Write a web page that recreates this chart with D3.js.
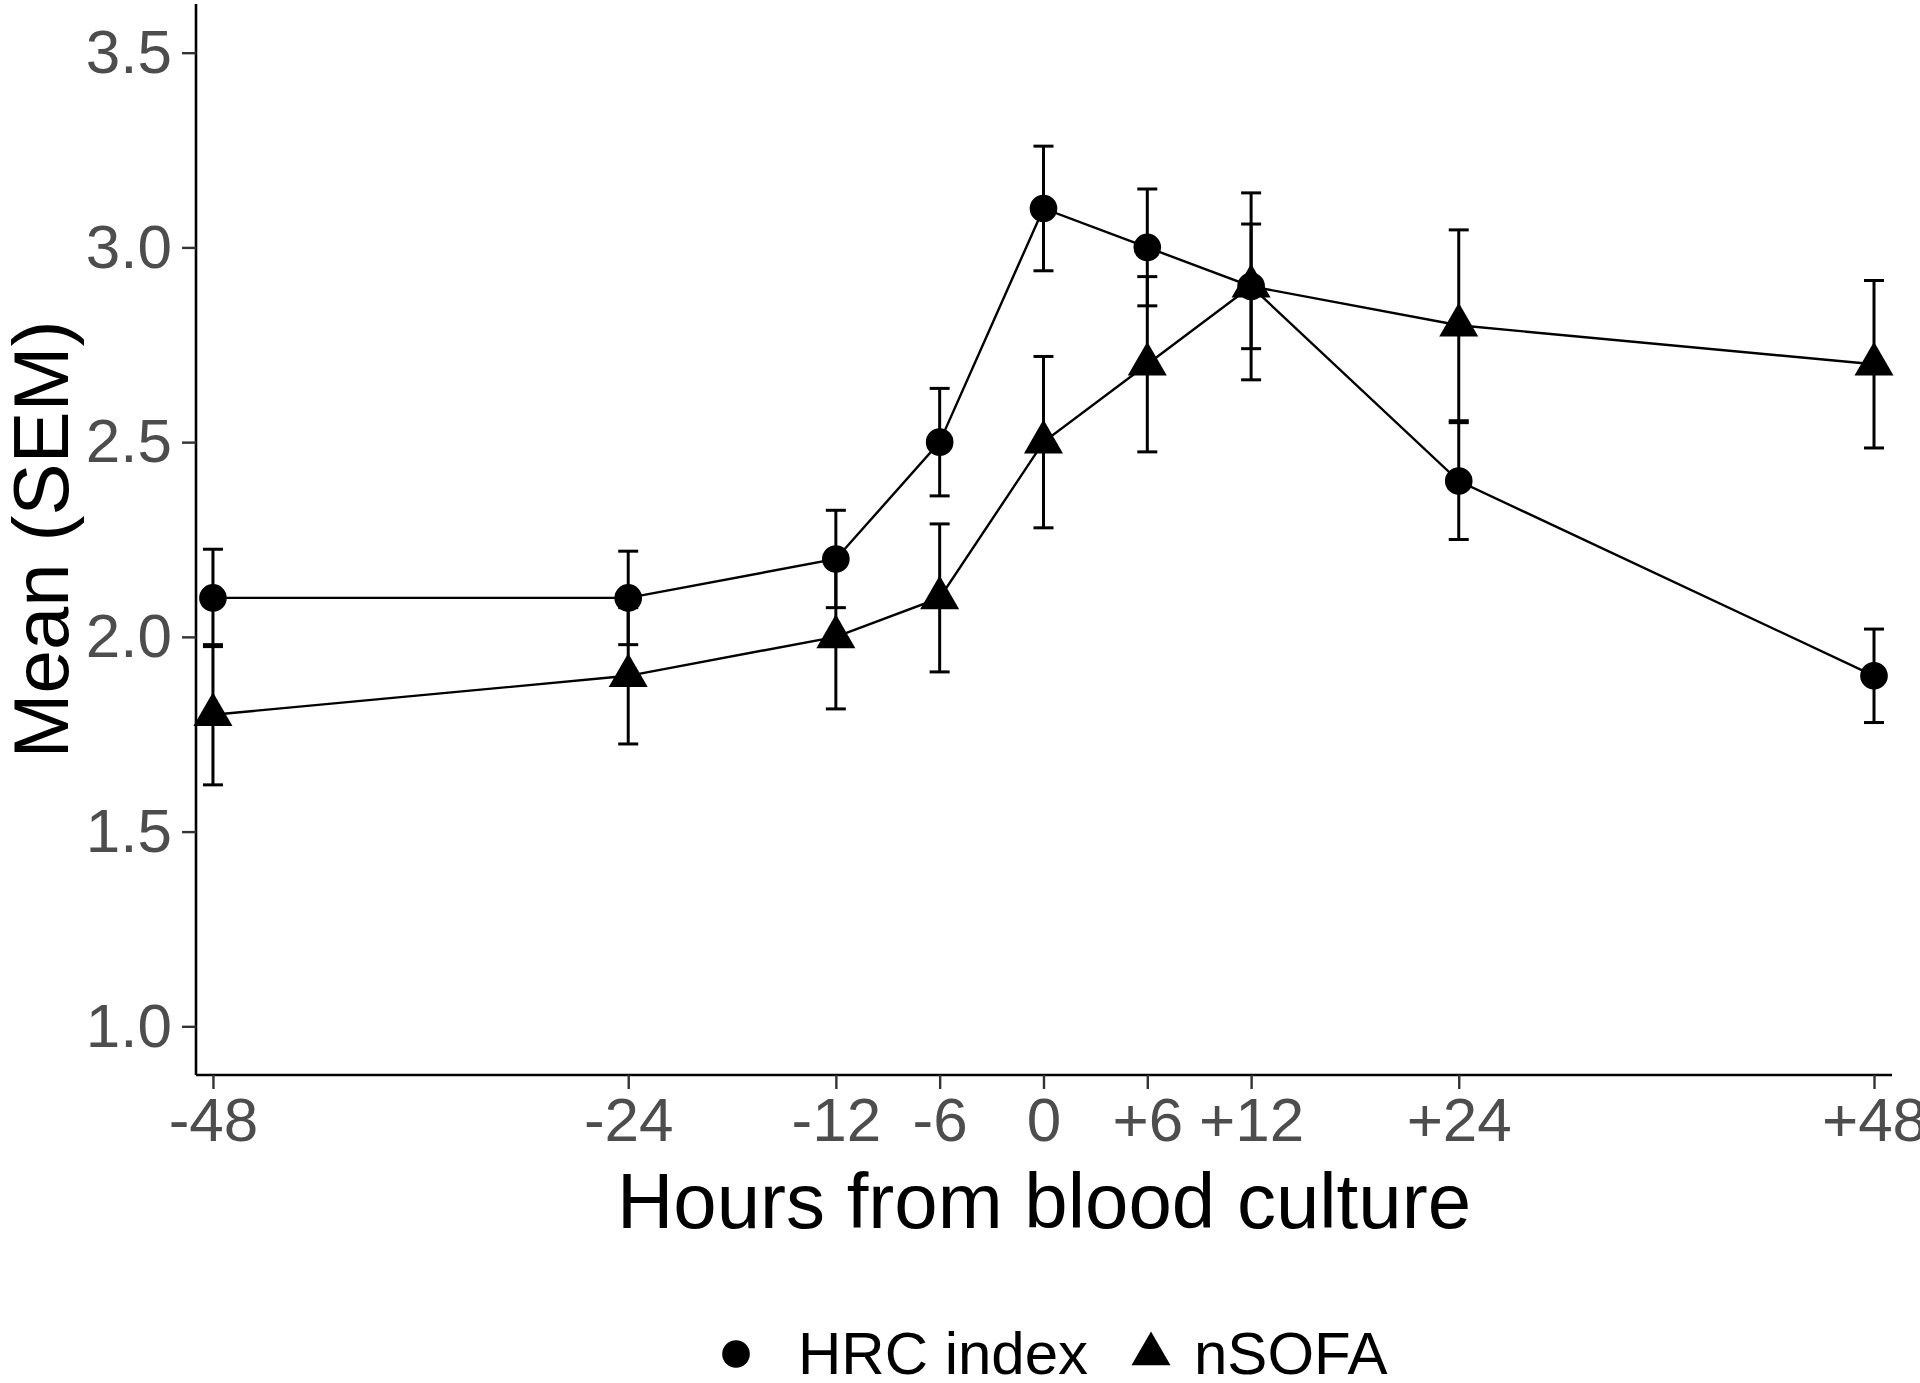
<!DOCTYPE html>
<html>
<head>
<meta charset="utf-8">
<script src="https://cdn.jsdelivr.net/npm/d3@7"></script>
<style>
  body { margin: 0; background: #fff; }
  svg { display: block; font-family: "Liberation Sans", Arial, sans-serif; }
</style>
</head>
<body>
<svg id="chart" width="1920" height="1383"></svg>
<script>
// hours relative to the blood culture
const hours = [-48, -24, -12, -6, 0, 6, 12, 24, 48];
const hourLabels = ["-48", "-24", "-12", "-6", "0", "+6", "+12", "+24", "+48"];

// mean and SEM for each score
const hrcMean = [2.1, 2.1, 2.2, 2.5, 3.1, 3.0, 2.9, 2.4, 1.9];
const hrcSem = [0.125, 0.12, 0.125, 0.138, 0.16, 0.15, 0.16, 0.15, 0.12];
const nsofaMean = [1.8, 1.9, 2.0, 2.1, 2.5, 2.7, 2.9, 2.8, 2.7];
const nsofaSem = [0.18, 0.175, 0.185, 0.19, 0.22, 0.225, 0.24, 0.245, 0.215];

const yTicks = [1.0, 1.5, 2.0, 2.5, 3.0, 3.5];

const series = [
  { name: "HRC index", shape: d3.symbolCircle, mean: hrcMean, sem: hrcSem, size: 600 },
  { name: "nSOFA", shape: d3.symbolTriangle, mean: nsofaMean, sem: nsofaSem, size: 660 }
];

const svg = d3.select("#chart");
const panel = { left: 196, right: 1892, top: 4, bottom: 1075 };

// small padding on x, ggplot style 5% on y
const x = d3.scaleLinear().domain([-48.98, 49.04]).range([panel.left, panel.right]);
const y = d3.scaleLinear().domain([0.875, 3.625]).range([panel.bottom, panel.top]);

// axes
const yAxis = svg.append("g")
  .attr("transform", `translate(${panel.left},0)`)
  .call(d3.axisLeft(y).tickValues(yTicks).tickFormat(d3.format(".1f")).tickSize(14).tickPadding(10));
const xAxis = svg.append("g")
  .attr("transform", `translate(0,${panel.bottom})`)
  .call(d3.axisBottom(x).tickValues(hours).tickFormat((d, i) => hourLabels[i]).tickSize(14).tickPadding(8));

[yAxis, xAxis].forEach(ax => {
  ax.select(".domain").attr("stroke", "#000").attr("stroke-width", 2.6);
  ax.selectAll(".tick line").attr("stroke", "#333").attr("stroke-width", 2.4);
  ax.selectAll(".tick text")
    .attr("fill", "#4d4d4d")
    .style("font-size", "62px")
    .style("font-family", "'Liberation Sans', Arial, sans-serif");
});
// no overhang past the panel ends
yAxis.select(".domain").attr("d", `M0,${panel.bottom}V${panel.top}`);
xAxis.select(".domain").attr("d", `M${panel.left},0H${panel.right}`);

// axis titles
svg.append("text")
  .attr("x", (panel.left + panel.right) / 2)
  .attr("y", 1228)
  .attr("text-anchor", "middle")
  .style("font-size", "78px")
  .text("Hours from blood culture");

svg.append("text")
  .attr("transform", `translate(68,${(panel.top + panel.bottom) / 2}) rotate(-90)`)
  .attr("text-anchor", "middle")
  .style("font-size", "78px")
  .text("Mean (SEM)");

const plot = svg.append("g");
const line = d3.line().x(d => x(d.h)).y(d => y(d.v));

series.forEach(s => {
  const pts = hours.map((h, i) => ({ h, v: s.mean[i], e: s.sem[i] }));

  plot.append("path")
    .datum(pts)
    .attr("d", line)
    .attr("fill", "none")
    .attr("stroke", "#000")
    .attr("stroke-width", 2.4);

  const bars = plot.append("g").selectAll("g").data(pts).join("g")
    .attr("stroke", "#000")
    .attr("stroke-width", 3);
  bars.append("line")
    .attr("x1", d => x(d.h)).attr("x2", d => x(d.h))
    .attr("y1", d => y(d.v - d.e)).attr("y2", d => y(d.v + d.e));
  bars.append("line")
    .attr("x1", d => x(d.h) - 10).attr("x2", d => x(d.h) + 10)
    .attr("y1", d => y(d.v + d.e)).attr("y2", d => y(d.v + d.e));
  bars.append("line")
    .attr("x1", d => x(d.h) - 10).attr("x2", d => x(d.h) + 10)
    .attr("y1", d => y(d.v - d.e)).attr("y2", d => y(d.v - d.e));
});

series.forEach(s => {
  const pts = hours.map((h, i) => ({ h, v: s.mean[i] }));
  plot.append("g").selectAll("path").data(pts).join("path")
    .attr("transform", d => `translate(${x(d.h)},${y(d.v)})`)
    .attr("d", d3.symbol().type(s.shape).size(s.size))
    .attr("fill", "#000");
});

// legend at the bottom
const legend = svg.append("g").attr("transform", "translate(0,1354)");
const legendItems = [
  { s: series[0], mx: 736, tx: 798 },
  { s: series[1], mx: 1151, tx: 1194 }
];
legendItems.forEach(item => {
  legend.append("path")
    .attr("transform", `translate(${item.mx},0)`)
    .attr("d", d3.symbol().type(item.s.shape).size(item.s.size))
    .attr("fill", "#000");
  legend.append("text")
    .attr("x", item.tx)
    .attr("y", 20)
    .style("font-size", "60px")
    .text(item.s.name);
});
</script>
</body>
</html>
